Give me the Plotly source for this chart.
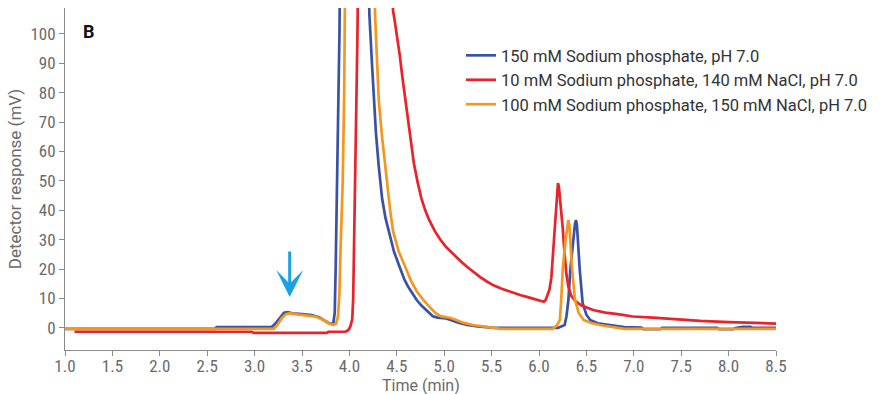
import plotly.graph_objects as go

# ---------------- data ----------------
series_names = [
    "150 mM Sodium phosphate, pH 7.0",
    "10 mM Sodium phosphate, 140 mM NaCl, pH 7.0",
    "100 mM Sodium phosphate, 150 mM NaCl, pH 7.0",
]

blue_x = [1.00, 2.58, 2.60, 3.18, 3.22, 3.27, 3.31, 3.35, 3.40, 3.50, 3.60, 3.68, 3.74, 3.79,
          3.83, 3.845, 3.855, 3.86, 3.87, 3.88, 3.895, 3.90, 3.95, 4.15, 4.20,
          4.21, 4.24, 4.26, 4.28, 4.31, 4.345, 4.38, 4.42, 4.47, 4.53, 4.58, 4.62, 4.66, 4.71,
          4.76, 4.80, 4.85, 4.88, 4.93, 4.98, 5.02, 5.06, 5.10, 5.15, 5.24, 5.35, 5.50, 5.60,
          6.20, 6.24, 6.27, 6.29, 6.31, 6.33, 6.36, 6.38, 6.39, 6.40, 6.41, 6.43, 6.46, 6.50,
          6.54, 6.62, 6.75, 6.90, 7.08, 7.10, 7.28, 7.30, 7.88, 7.90, 8.05, 8.07, 8.15, 8.23,
          8.25, 8.50]
blue_y = [-0.3, -0.3, 0.3, 0.3, 1.5, 3.8, 5.2, 5.4, 5.0, 4.7, 4.4, 3.6, 2.3, 1.5,
          1.6, 5.0, 20.0, 33.0, 45.0, 70.0, 100.0, 110.0, 300.0, 300.0, 120.0,
          107.0, 88.8, 77.5, 66.3, 54.8, 44.0, 37.5, 32.3, 26.0, 20.7, 16.5, 14.0, 11.8, 9.5,
          7.6, 6.3, 4.8, 4.0, 3.5, 3.4, 3.2, 2.8, 2.3, 1.8, 1.0, 0.5, 0.1, 0.0,
          0.0, 0.5, 1.0, 4.0, 9.5, 19.7, 30.0, 35.5, 36.7, 35.0, 30.0, 19.7, 8.5, 4.5,
          2.7, 1.6, 1.0, 0.3, 0.1, -0.4, -0.4, 0.0, 0.0, -0.4, -0.4, 0.0, 0.4, 0.4,
          0.0, 0.0]

red_x = [1.10, 2.97, 2.99, 3.76, 3.78, 3.96, 3.99, 4.01, 4.03, 4.04, 4.05, 4.06, 4.07, 4.085, 4.09,
         4.15, 4.40, 4.46, 4.48, 4.50, 4.53, 4.56, 4.59, 4.62, 4.65, 4.68, 4.72, 4.76, 4.80, 4.84,
         4.90, 4.96, 5.02, 5.08, 5.13, 5.18, 5.24, 5.30, 5.38, 5.45, 5.52, 5.60, 5.70, 5.80, 5.90,
         5.97, 6.02, 6.05, 6.07, 6.09, 6.11, 6.13, 6.15, 6.17, 6.19, 6.20, 6.21, 6.23, 6.25, 6.27,
         6.29, 6.31, 6.34, 6.38, 6.45, 6.57, 6.70, 6.85, 6.99, 7.20, 7.40, 7.56, 7.70, 8.00, 8.26,
         8.50]
red_y = [-1.3, -1.3, -1.7, -1.7, -1.3, -1.3, -0.7, 0.5, 3.0, 10.0, 30.0, 45.0, 70.0, 100.0, 110.0,
         300.0, 300.0, 108.0, 104.0, 100.0, 93.0, 85.0, 77.5, 70.0, 63.0, 56.0, 49.5, 44.0, 40.0, 36.8,
         33.0, 30.0, 27.5, 25.5, 24.0, 22.5, 20.8, 19.2, 17.3, 15.8, 14.5, 13.4, 12.2, 11.2, 10.3,
         9.6, 9.0, 8.9, 9.5, 11.0, 13.0, 17.0, 27.0, 38.0, 47.0, 49.3, 48.0, 42.0, 34.0, 25.0,
         18.0, 14.0, 11.0, 9.2, 7.6, 6.1, 5.2, 4.6, 3.9, 3.5, 3.0, 2.8, 2.4, 2.0, 1.7,
         1.5]

orange_x = [1.00, 3.20, 3.24, 3.29, 3.33, 3.37, 3.45, 3.55, 3.65, 3.72, 3.78, 3.83, 3.86, 3.88,
            3.895, 3.905, 3.915, 3.93, 3.945, 3.96, 4.00, 4.22, 4.27, 4.29, 4.31, 4.34, 4.38,
            4.40, 4.43, 4.46, 4.52, 4.59, 4.65, 4.71, 4.78, 4.85, 4.91, 4.96, 5.02, 5.07, 5.12,
            5.20, 5.30, 5.45, 5.60, 6.14, 6.17, 6.20, 6.22, 6.235, 6.25, 6.28, 6.30, 6.31, 6.32,
            6.33, 6.35, 6.38, 6.42, 6.47, 6.55, 6.64, 6.78, 6.90, 8.50]
orange_y = [-0.3, -0.3, 1.0, 3.5, 4.7, 5.0, 4.6, 4.3, 3.8, 2.8, 1.6, 1.0, 1.5, 4.0,
            12.0, 25.0, 35.0, 50.0, 80.0, 110.0, 300.0, 300.0, 107.0, 92.0, 77.5, 66.3, 54.8,
            47.0, 40.0, 33.0, 26.0, 20.7, 16.0, 12.5, 9.5, 7.0, 5.0, 4.0, 3.6, 3.4, 2.8,
            1.8, 1.0, 0.3, -0.3, -0.3, 0.3, 1.5, 2.7, 10.0, 19.7, 30.0, 35.5, 36.7, 35.0,
            30.0, 19.7, 9.5, 5.0, 2.7, 1.7, 1.0, 0.3, -0.3, -0.3]

x_tick_vals = [1.0, 1.5, 2.0, 2.5, 3.0, 3.5, 4.0, 4.5, 5.0, 5.5, 6.0, 6.5, 7.0, 7.5, 8.0, 8.5]
x_tick_text = ["1.0", "1.5", "2.0", "2.5", "3.0", "3.5", "4.0", "4.5", "5.0", "5.5", "6.0",
               "6.5", "7.0", "7.5", "8.0", "8.5"]
y_tick_vals = [0, 10, 20, 30, 40, 50, 60, 70, 80, 90, 100]
y_tick_text = ["0", "10", "20", "30", "40", "50", "60", "70", "80", "90", "100"]
x_title = "Time (min)"
y_title = "Detector response (mV)"

colors = ["#3a52a6", "#e8232b", "#f7961f"]
NARROW = "Liberation Sans Narrow, Arial Narrow, Roboto Condensed, sans-serif"
FONT = "Roboto, Arial, sans-serif"

# ---------------- figure ----------------
fig = go.Figure()
for name, xs, ys, col in [
    (series_names[0], blue_x, blue_y, colors[0]),
    (series_names[1], red_x, red_y, colors[1]),
    (series_names[2], orange_x, orange_y, colors[2]),
]:
    fig.add_trace(go.Scatter(x=xs, y=ys, mode="lines", name=name,
                             line=dict(color=col, width=2.7)))

fig.add_annotation(x=3.37, y=10.5, ax=3.37, ay=26.5, axref="x", ayref="y",
                   xref="x", yref="y", text="", showarrow=True,
                   arrowhead=3, arrowsize=1.5, arrowwidth=3, arrowcolor="#1ba1e2")

fig.add_annotation(x=(89 - 65) / 711, y=(350 - 31) / 342, xref="paper", yref="paper",
                   text="<b>B</b>", xanchor="center", yanchor="middle",
                   showarrow=False, font=dict(family=FONT, size=18, color="#111111"))

# x-axis title placed below tick labels
fig.add_annotation(x=0.5, y=(350 - 386) / 342, xref="paper", yref="paper",
                   text=x_title, xanchor="center", yanchor="middle", showarrow=False,
                   font=dict(family=FONT, size=16, color="#6a6a6a"))

fig.update_layout(
    width=882, height=394,
    margin=dict(l=65, r=106, t=8, b=44, autoexpand=False),
    paper_bgcolor="white", plot_bgcolor="white",
    font=dict(family=FONT, color="#666666", size=15),
    showlegend=True,
    legend=dict(x=0.557, y=0.912, xanchor="left", yanchor="top",
                bgcolor="rgba(0,0,0,0)", font=dict(family=FONT, size=16.5, color="#333333"),
                tracegroupgap=0, itemwidth=30),
    xaxis=dict(range=[1.0, 8.5], tickvals=x_tick_vals, ticktext=x_tick_text,
               showgrid=False, zeroline=False, showline=True, linecolor="#8a8a8a", linewidth=1,
               ticks="outside", ticklen=5, tickcolor="#8a8a8a", automargin=False,
               ticklabelstandoff=-4,
               tickfont=dict(family=NARROW, size=17, color="#6a6a6a")),
    yaxis=dict(range=[-7.5, 108.8], tickvals=y_tick_vals, ticktext=y_tick_text,
               showgrid=False, zeroline=False, showline=True, linecolor="#8a8a8a", linewidth=1,
               ticks="outside", ticklen=5, tickcolor="#8a8a8a", automargin=False,
               tickfont=dict(family=NARROW, size=17, color="#6a6a6a"),
               title=dict(text=y_title, font=dict(family=FONT, size=17, color="#6a6a6a"),
                          standoff=4)),
)

fig.write_html("out.html")
